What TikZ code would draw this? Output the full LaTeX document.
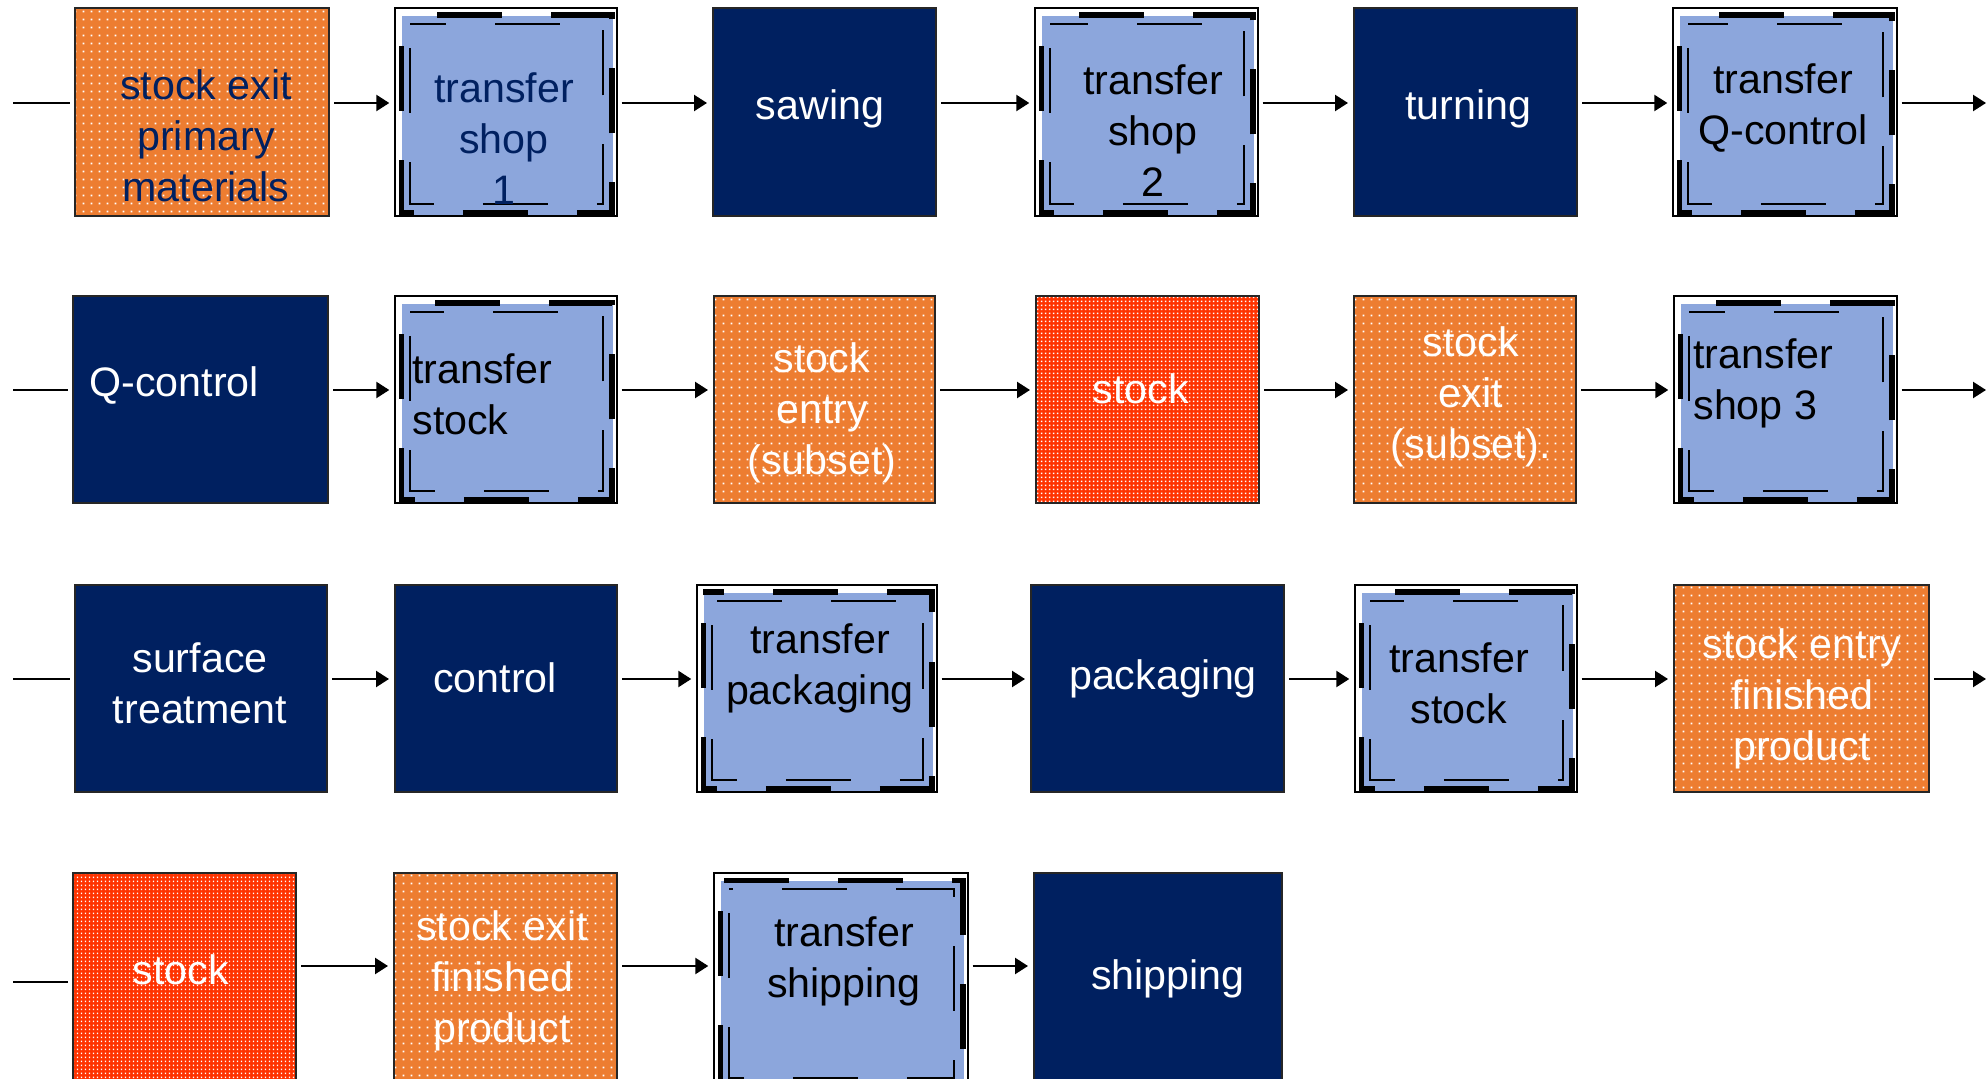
\documentclass[tikz,border=0pt]{standalone}
\usepackage{fontspec}
\setmainfont{Liberation Sans}
\usetikzlibrary{arrows.meta,patterns,fit}

\definecolor{navy}{HTML}{002060}
\definecolor{porange}{HTML}{ED7D31}
\definecolor{pred}{HTML}{FF3300}
\definecolor{tblue}{HTML}{8CA6DC}

% white dot rasters for the stock boxes
\pgfdeclarepatternformonly{wdots}{\pgfpointorigin}{\pgfpoint{4pt}{4pt}}{\pgfpoint{4pt}{4pt}}{%
  \pgfpathrectangle{\pgfpoint{1.5pt}{1.5pt}}{\pgfpoint{1pt}{1pt}}\pgfusepath{fill}}
\pgfdeclarepatternformonly{wdotsfine}{\pgfpointorigin}{\pgfpoint{2pt}{2pt}}{\pgfpoint{2pt}{2pt}}{%
  \pgfpathrectangle{\pgfpoint{0.6pt}{0.6pt}}{\pgfpoint{0.8pt}{0.8pt}}\pgfusepath{fill}}

\newcommand\boxfont{\fontsize{20.6}{25.6}\selectfont}

% blue fill and broken double frame of a transfer step
\newcommand\trdeco[1]{%
  \fill[tblue] ([shift={(8,9)}]#1.north west) rectangle ([shift={(-5,-2)}]#1.south east);
  \draw[line width=2.8pt, dash pattern=on 32.5pt off 24.5pt, dash phase=41.5pt]
    ([shift={(7,8)}]#1.north west) rectangle ([shift={(-6,-4)}]#1.south east);
  \draw[line width=1pt, dash pattern=on 32.5pt off 24.5pt, dash phase=45pt]
    ([shift={(16,17)}]#1.north west) rectangle ([shift={(-15,-13)}]#1.south east);
}

\begin{document}
\begin{tikzpicture}[x=0.5pt,y=-0.5pt,
  box/.style={rectangle, draw=black!85, line width=1pt, inner sep=0pt},
  opbox/.style={box, fill=navy},
  orbox/.style={box, preaction={fill=porange}, pattern=wdots, pattern color=white},
  rdbox/.style={box, preaction={fill=pred}, pattern=wdotsfine, pattern color=white},
  trbox/.style={rectangle, draw=black, line width=0.7pt, fill=white, inner sep=0pt},
  txt/.style={font=\boxfont, align=center, inner sep=0pt, text=black, yshift=-2pt},
  wtxt/.style={txt, text=white},
  ntxt/.style={txt, text=navy},
  ln/.style={line width=1.2pt},
  arr/.style={ln, -{Triangle[length=6.5pt,width=8pt]}}]

\useasboundingbox (0,0) rectangle (1986,1079);
\clip (0,0) rectangle (1986,1079);

% row coordinates
\coordinate (r1) at (0,103);
\coordinate (r2) at (0,390);
\coordinate (r3) at (0,679);
\coordinate (r4) at (0,966);
\coordinate (s1) at (13,103);
\coordinate (s2) at (13,390);
\coordinate (s3) at (13,679);
\coordinate (s4) at (13,982);
\coordinate (e1) at (1986,103);
\coordinate (e2) at (1986,390);
\coordinate (e3) at (1986,679);

% row 1
\node[orbox, fit={(75,8) (329,216)}] (a1) {};
\node[trbox, fit={(395,8) (617,216)}] (a2) {};
\node[opbox, fit={(713,8) (936,216)}] (a3) {};
\node[trbox, fit={(1035,8) (1258,216)}] (a4) {};
\node[opbox, fit={(1354,8) (1577,216)}] (a5) {};
\node[trbox, fit={(1673,8) (1897,216)}] (a6) {};

% row 2
\node[opbox, fit={(73,296) (328,503)}] (b1) {};
\node[trbox, fit={(395,296) (617,503)}] (b2) {};
\node[orbox, fit={(714,296) (935,503)}] (b3) {};
\node[rdbox, fit={(1036,296) (1259,503)}] (b4) {};
\node[orbox, fit={(1354,296) (1576,503)}] (b5) {};
\node[trbox, fit={(1674,296) (1897,503)}] (b6) {};

% row 3
\node[opbox, fit={(75,585) (327,792)}] (c1) {};
\node[opbox, fit={(395,585) (617,792)}] (c2) {};
\node[trbox, fit={(697,585) (937,792)}] (c3) {};
\node[opbox, fit={(1031,585) (1284,792)}] (c4) {};
\node[trbox, fit={(1355,585) (1577,792)}] (c5) {};
\node[orbox, fit={(1674,585) (1929,792)}] (c6) {};

% row 4
\node[rdbox, fit={(73,873) (296,1090)}] (d1) {};
\node[orbox, fit={(394,873) (617,1090)}] (d2) {};
\node[trbox, fit={(714,873) (968,1090)}] (d3) {};
\node[opbox, fit={(1034,873) (1282,1090)}] (d4) {};

\foreach \n in {a2,a4,a6,b2,b6,c3,c5,d3} {\trdeco{\n}}

% labels
\node[ntxt] (a1t) at (206,136) {\strut stock exit\\\strut primary\\\strut materials};
\node[ntxt] (a2t) at (504,139) {\strut transfer\\\strut shop\\\strut 1};
\node[wtxt] (a3t) at (820,105) {\strut sawing};
\node[txt]  (a4t) at (1153,131) {\strut transfer\\\strut shop\\\strut 2};
\node[wtxt] (a5t) at (1468,105) {\strut turning};
\node[txt]  (a6t) at (1783,105) {\strut transfer\\\strut Q-control};

\node[wtxt, anchor=west] (b1t) at (89,382) {\strut Q-control};
\node[txt, anchor=west, align=left] (b2t) at (412,395) {\strut transfer\\\strut stock};
\node[wtxt] (b3t) at (822,409) {\strut stock\\\strut entry\\\strut (subset)};
\node[wtxt] (b4t) at (1141,389) {\strut stock};
\node[wtxt] (b5t) at (1471,393) {\strut stock\\\strut exit\\\strut (subset).};
\node[txt, anchor=west, align=left] (b6t) at (1693,380) {\strut transfer\\\strut shop 3};

\node[wtxt] (c1t) at (200,684) {\strut surface\\\strut treatment};
\node[wtxt] (c2t) at (495,678) {\strut control};
\node[txt]  (c3t) at (820,665) {\strut transfer\\\strut packaging};
\node[wtxt] (c4t) at (1163,675) {\strut packaging};
\node[txt]  (c5t) at (1459,684) {\strut transfer\\\strut stock};
\node[wtxt] (c6t) at (1802,695) {\strut stock entry\\\strut finished\\\strut product};

\node[wtxt] (d1t) at (181,970) {\strut stock};
\node[wtxt] (d2t) at (502,977) {\strut stock exit\\\strut finished\\\strut product};
\node[txt]  (d3t) at (844,958) {\strut transfer\\\strut shipping};
\node[wtxt] (d4t) at (1168,975) {\strut shipping};

% connectors, row 1
\draw[ln]  (s1) -- ([xshift=-2pt]a1.west |- s1);
\draw[arr] ([xshift=2pt]a1.east |- r1) -- ([xshift=-2.5pt]a2.west |- r1);
\draw[arr] ([xshift=2pt]a2.east |- r1) -- ([xshift=-2.5pt]a3.west |- r1);
\draw[arr] ([xshift=2pt]a3.east |- r1) -- ([xshift=-2.5pt]a4.west |- r1);
\draw[arr] ([xshift=2pt]a4.east |- r1) -- ([xshift=-2.5pt]a5.west |- r1);
\draw[arr] ([xshift=2pt]a5.east |- r1) -- ([xshift=-2.5pt]a6.west |- r1);
\draw[arr] ([xshift=2pt]a6.east |- e1) -- (e1);

% row 2
\draw[ln]  (s2) -- ([xshift=-2pt]b1.west |- s2);
\draw[arr] ([xshift=2pt]b1.east |- r2) -- ([xshift=-2.5pt]b2.west |- r2);
\draw[arr] ([xshift=2pt]b2.east |- r2) -- ([xshift=-2.5pt]b3.west |- r2);
\draw[arr] ([xshift=2pt]b3.east |- r2) -- ([xshift=-2.5pt]b4.west |- r2);
\draw[arr] ([xshift=2pt]b4.east |- r2) -- ([xshift=-2.5pt]b5.west |- r2);
\draw[arr] ([xshift=2pt]b5.east |- r2) -- ([xshift=-2.5pt]b6.west |- r2);
\draw[arr] ([xshift=2pt]b6.east |- e2) -- (e2);

% row 3
\draw[ln]  (s3) -- ([xshift=-2pt]c1.west |- s3);
\draw[arr] ([xshift=2pt]c1.east |- r3) -- ([xshift=-2.5pt]c2.west |- r3);
\draw[arr] ([xshift=2pt]c2.east |- r3) -- ([xshift=-2.5pt]c3.west |- r3);
\draw[arr] ([xshift=2pt]c3.east |- r3) -- ([xshift=-2.5pt]c4.west |- r3);
\draw[arr] ([xshift=2pt]c4.east |- r3) -- ([xshift=-2.5pt]c5.west |- r3);
\draw[arr] ([xshift=2pt]c5.east |- r3) -- ([xshift=-2.5pt]c6.west |- r3);
\draw[arr] ([xshift=2pt]c6.east |- e3) -- (e3);

% row 4
\draw[ln]  (s4) -- ([xshift=-2pt]d1.west |- s4);
\draw[arr] ([xshift=2pt]d1.east |- r4) -- ([xshift=-2.5pt]d2.west |- r4);
\draw[arr] ([xshift=2pt]d2.east |- r4) -- ([xshift=-2.5pt]d3.west |- r4);
\draw[arr] ([xshift=2pt]d3.east |- r4) -- ([xshift=-2.5pt]d4.west |- r4);
\end{tikzpicture}
\end{document}
